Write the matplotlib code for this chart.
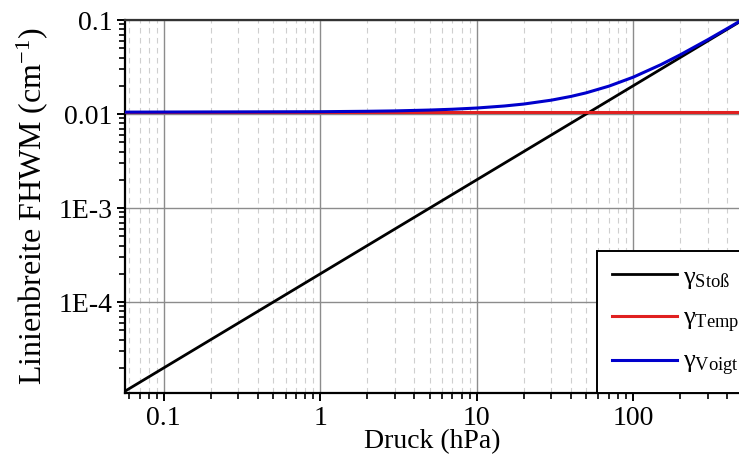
import matplotlib
matplotlib.use("Agg")
import matplotlib.pyplot as plt
from matplotlib.ticker import LogLocator, FixedLocator, FixedFormatter, NullFormatter

plt.rcParams["font.family"] = ["Liberation Serif", "DejaVu Serif"]
plt.rcParams["mathtext.fontset"] = "custom"
plt.rcParams["mathtext.rm"] = "Liberation Serif"
plt.rcParams["mathtext.it"] = "Liberation Serif:italic"

# values
stoss_p = [0.0564, 500]
stoss_w = [1.128e-5, 0.1]

temp_p = [0.0564, 500]
temp_w = [0.0105, 0.0105]

voigt_p = [0.0564, 1, 2, 3, 5, 7, 10, 15, 20, 30, 40, 50, 70, 100, 150, 200, 300, 400, 500]
voigt_w = [0.0105, 0.01061, 0.01072, 0.01082, 0.01105, 0.01127, 0.01161, 0.0122, 0.0128,
           0.01408, 0.01542, 0.01683, 0.01984, 0.0247, 0.0335, 0.04275, 0.0619, 0.0815, 0.1012]

x_ticks = [0.1, 1, 10, 100]
x_labels = ["0.1", "1", "10", "100"]
y_ticks = [1e-4, 1e-3, 1e-2, 1e-1]
y_labels = ["1E-4", "1E-3", "0.01", "0.1"]

fig = plt.figure(figsize=(7.39, 4.57), dpi=100)
ax = fig.add_axes([0.169, 0.14, 0.831, 0.816])

ax.plot(stoss_p, stoss_w, color="black", lw=2.0, label="γ$_{\\mathrm{Stoß}}$", zorder=3)
ax.plot(temp_p, temp_w, color="#e02020", lw=2.2, label="γ$_{\\mathrm{Temp}}$", zorder=3)
ax.plot(voigt_p, voigt_w, color="#0000cc", lw=2.2, label="γ$_{\\mathrm{Voigt}}$", zorder=4)

ax.set_xscale("log")
ax.set_yscale("log")
ax.set_xlim(0.0564, 475)
ax.set_ylim(1.08e-5, 0.1)

ax.xaxis.set_major_locator(FixedLocator(x_ticks))
ax.xaxis.set_major_formatter(FixedFormatter(x_labels))
ax.xaxis.set_minor_locator(LogLocator(base=10, subs=range(2, 10), numticks=20))
ax.xaxis.set_minor_formatter(NullFormatter())
ax.yaxis.set_major_locator(FixedLocator(y_ticks))
ax.yaxis.set_major_formatter(FixedFormatter(y_labels))
ax.yaxis.set_minor_locator(LogLocator(base=10, subs=range(2, 10), numticks=20))
ax.yaxis.set_minor_formatter(NullFormatter())

ax.grid(which="major", color="#8c8c8c", lw=1.0, ls="-")
ax.grid(which="minor", axis="x", color="#cfcfcf", lw=0.8, ls=(0, (5, 4)))

ax.tick_params(which="major", direction="out", length=6, width=1.4, labelsize=20)
ax.tick_params(which="minor", direction="out", length=4, width=1.2)
ax.tick_params(axis="x", pad=3)
ax.tick_params(axis="y", pad=3)

for side in ["left", "bottom", "top"]:
    ax.spines[side].set_linewidth(1.6)
ax.spines["top"].set_color("#333333")
ax.spines["right"].set_visible(False)

ax.set_xlabel("Druck (hPa)", fontsize=20, labelpad=-1)
ax.set_ylabel("Linienbreite FHWM (cm$^{\\mathregular{-1}}$)", fontsize=23, labelpad=6)

leg = ax.legend(loc="lower left", bbox_to_anchor=(597 / 739, 64 / 457), bbox_transform=fig.transFigure,
                borderaxespad=0, fontsize=19, frameon=True, fancybox=False, framealpha=1,
                edgecolor="black", handlelength=2.5, handletextpad=0.2, labelspacing=0.6,
                borderpad=0.55)
leg.get_frame().set_linewidth(1.4)
leg.set_zorder(10)

fig.savefig("out.png", dpi=100)
